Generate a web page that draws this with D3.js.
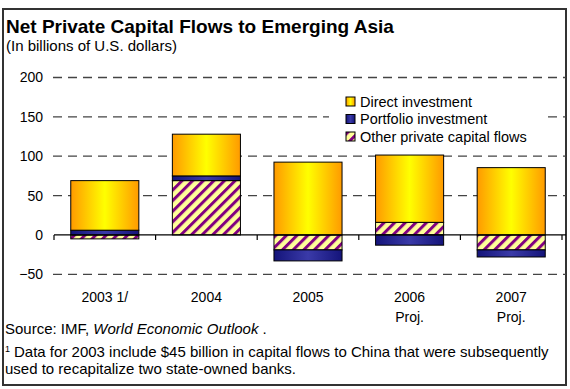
<!DOCTYPE html>
<html>
<head>
<meta charset="utf-8">
<script src="https://cdn.jsdelivr.net/npm/d3@7"></script>
<style>
  html, body { margin: 0; padding: 0; background: #fff; }
  svg { display: block; font-family: "Liberation Sans", Arial, sans-serif; }
</style>
</head>
<body>
<svg id="chart" width="570" height="389"></svg>
<script>
// Net private capital flows to emerging Asia, billions of U.S. dollars
const categories = ["2003 1/", "2004", "2005", "2006", "2007"];
const categorySub = ["", "", "", "Proj.", "Proj."];
const directInvestment = [63, 53, 92.5, 85.5, 85.5];
const portfolioInvestment = [6, 6, -14, -13, -9];
const otherFlows = [-5, 69, -19, 16, -19];
const yTicks = [-50, 0, 50, 100, 150, 200];

const seriesNames = ["Other private capital flows", "Portfolio investment", "Direct investment"];
const legendOrder = ["Direct investment", "Portfolio investment", "Other private capital flows"];

const rows = categories.map((c, i) => ({
  category: c,
  "Direct investment": directInvestment[i],
  "Portfolio investment": portfolioInvestment[i],
  "Other private capital flows": otherFlows[i]
}));

const svg = d3.select("#chart");
const defs = svg.append("defs");

// Direct investment: orange-yellow-orange horizontal gradient
const gDirect = defs.append("linearGradient").attr("id", "gradDirect")
  .attr("x1", "0%").attr("x2", "100%").attr("y1", "0%").attr("y2", "0%");
gDirect.append("stop").attr("offset", "0%").attr("stop-color", "#ff9a00");
gDirect.append("stop").attr("offset", "50%").attr("stop-color", "#ffff00");
gDirect.append("stop").attr("offset", "100%").attr("stop-color", "#ff9a00");

// Portfolio investment: navy gradient
const gPort = defs.append("linearGradient").attr("id", "gradPort")
  .attr("x1", "0%").attr("x2", "100%").attr("y1", "0%").attr("y2", "0%");
gPort.append("stop").attr("offset", "0%").attr("stop-color", "#14147a");
gPort.append("stop").attr("offset", "50%").attr("stop-color", "#3a3aa8");
gPort.append("stop").attr("offset", "100%").attr("stop-color", "#14147a");

// Other flows: purple diagonal hatch on pale yellow
const pat = defs.append("pattern").attr("id", "hatch")
  .attr("patternUnits", "userSpaceOnUse")
  .attr("width", 7.5).attr("height", 7.5)
  .attr("patternTransform", "rotate(45)");
pat.append("rect").attr("width", 7.5).attr("height", 7.5).attr("fill", "#ffff99");
pat.append("rect").attr("x", 0).attr("width", 3).attr("height", 7.5).attr("fill", "#800080");

const fills = {
  "Direct investment": "url(#gradDirect)",
  "Portfolio investment": "url(#gradPort)",
  "Other private capital flows": "url(#hatch)"
};

const FONT = "\"Liberation Sans\", Arial, sans-serif";

// Outer frame
svg.append("rect").attr("x", 3).attr("y", 9).attr("width", 563).attr("height", 376)
  .attr("fill", "none").attr("stroke", "#333").attr("stroke-width", 2);

// Titles
svg.append("text").attr("x", 6).attr("y", 33).attr("font-size", 19)
  .attr("font-weight", "bold").attr("fill", "#000")
  .text("Net Private Capital Flows to Emerging Asia");
svg.append("text").attr("x", 6).attr("y", 51).attr("font-size", 15).attr("fill", "#000")
  .text("(In billions of U.S. dollars)");

// Scales
const x = d3.scaleBand().domain(categories).range([54, 562]).paddingInner(0.33).paddingOuter(0.165);
const y = d3.scaleLinear().domain([-50, 200]).range([274.3, 77.5]);

// Dashed gridlines
const grid = svg.append("g");
grid.selectAll("line").data(yTicks.filter(t => t !== 0)).join("line")
  .attr("x1", 53).attr("x2", 566)
  .attr("y1", d => y(d)).attr("y2", d => y(d))
  .attr("stroke", "#444").attr("stroke-width", 1.3)
  .attr("stroke-dasharray", "9,6");

const yAxis = d3.axisLeft(y).tickValues(yTicks).tickSize(0).tickPadding(0);
const yg = svg.append("g").attr("transform", "translate(43,0)").call(yAxis);
yg.select(".domain").remove();
yg.selectAll("text").attr("font-size", 14).attr("fill", "#000").attr("font-family", FONT);

// Stacked bars (diverging)
const stack = d3.stack().keys(seriesNames).offset(d3.stackOffsetDiverging);
const stacked = stack(rows);

svg.append("g").selectAll("g").data(stacked).join("g")
  .attr("fill", d => fills[d.key])
  .selectAll("rect").data(d => d).join("rect")
  .attr("x", d => x(d.data.category))
  .attr("width", x.bandwidth())
  .attr("y", d => y(Math.max(d[0], d[1])))
  .attr("height", d => Math.abs(y(d[0]) - y(d[1])))
  .attr("stroke", "#000").attr("stroke-width", 1);

// Zero axis with category separators
const xAxis = d3.axisBottom(x).tickSize(0).tickFormat("");
const xg = svg.append("g").attr("transform", `translate(0,${y(0)})`).call(xAxis);
xg.select(".domain").attr("stroke", "#000").attr("stroke-width", 1.2).attr("d", "M54,0H566");
const bounds = d3.range(categories.length + 1).map(i => 54 + i * x.step());
xg.selectAll(".sep").data(bounds).join("line").attr("class", "sep")
  .attr("x1", d => d).attr("x2", d => d).attr("y1", 0).attr("y2", 5)
  .attr("stroke", "#000").attr("stroke-width", 1.2);

// Category labels
const labels = svg.append("g");
labels.selectAll("text.cat").data(categories).join("text").attr("class", "cat")
  .attr("x", d => x(d) + x.bandwidth() / 2).attr("y", 302)
  .attr("text-anchor", "middle").attr("font-size", 14).text(d => d);
labels.selectAll("text.sub").data(categories).join("text").attr("class", "sub")
  .attr("x", d => x(d) + x.bandwidth() / 2).attr("y", 322)
  .attr("text-anchor", "middle").attr("font-size", 14)
  .text((d, i) => categorySub[i]);

// Legend
const legend = svg.append("g");
legend.append("rect").attr("x", 329).attr("y", 89).attr("width", 215).attr("height", 56).attr("fill", "#fff");
const li = legend.selectAll("g").data(legendOrder).join("g")
  .attr("transform", (d, i) => `translate(346,${97 + i * 17.5})`);
li.append("rect").attr("width", 9).attr("height", 9)
  .attr("fill", d => fills[d]).attr("stroke", "#000").attr("stroke-width", 1);
li.append("text").attr("x", 14).attr("y", 9.5).attr("font-size", 14.5).text(d => d);

// Source and footnote
const src = svg.append("text").attr("x", 5).attr("y", 334).attr("font-size", 15);
src.append("tspan").text("Source: IMF, ");
src.append("tspan").attr("font-style", "italic").text("World Economic Outlook");
src.append("tspan").text(" .");

const fn = svg.append("text").attr("x", 5).attr("y", 357).attr("font-size", 15);
fn.append("tspan").attr("font-size", 9).attr("dy", -5).text("1");
fn.append("tspan").attr("dy", 5).attr("dx", 4)
  .text("Data for 2003 include $45 billion in capital flows to China that were subsequently");
svg.append("text").attr("x", 5).attr("y", 374).attr("font-size", 15)
  .text("used to recapitalize two state-owned banks.");
</script>
</body>
</html>
